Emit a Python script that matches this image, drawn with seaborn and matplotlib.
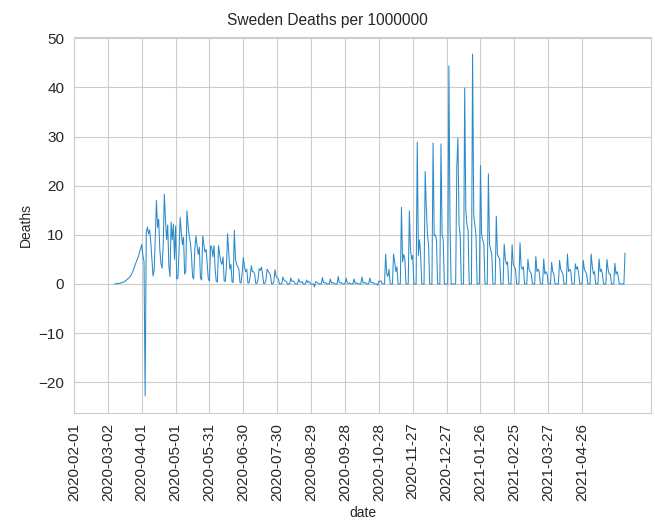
import matplotlib
matplotlib.use("Agg")
import matplotlib.pyplot as plt
import pandas as pd
import seaborn as sns

sns.set_style("whitegrid")
plt.rcParams["font.family"] = ["Liberation Sans", "DejaVu Sans"]

# Daily deaths per million, one row per week (Sunday..Saturday), starting 2020-03-08
start_date = "2020-03-08"

spring_2020 = [
    0.0, 0.0, 0.1, 0.1, 0.1, 0.2, 0.2,
    0.3, 0.4, 0.5, 0.7, 0.9, 1.1, 1.3,
    1.6, 2.0, 2.5, 3.1, 3.8, 4.4, 5.0,
    5.6, 6.4, 7.2, 8.0, 5.8, 4.5, -22.8,
    10.5, 11.6, 10.2, 11.0, 8.5, 5.0, 1.6,
    2.8, 9.5, 17.0, 11.5, 13.2, 7.0, 4.2,
    3.2, 8.0, 18.3, 13.2, 9.0, 12.0, 3.7,
    1.5, 12.6, 9.0, 12.2, 5.0, 11.8, 1.0,
    1.2, 6.5, 13.6, 10.5, 8.0, 9.5, 2.0,
    2.5, 14.9, 12.0, 9.8, 8.5, 6.0, 1.5,
    1.0, 7.1, 9.8, 7.8, 6.0, 7.5, 1.2,
    0.8, 9.8, 8.0, 6.5, 7.0, 4.0, 0.9,
    0.6, 7.8, 7.5, 5.5, 7.8, 3.0, 0.5,
    0.4, 7.8, 6.0, 4.5, 4.0, 5.5, 0.6,
    0.5, 3.5, 10.2, 6.5, 3.0, 4.0, 0.4,
    0.3, 10.9, 5.0, 4.0, 3.5, 3.0, 0.3,
    0.2, 2.5, 5.4, 3.5, 2.5, 3.0, 0.2,
    0.2, 1.5, 3.7, 2.5, 2.5, 2.0, 0.1,
    0.1, 1.0, 3.1, 2.8, 3.4, 2.0, 0.1,
    0.1, 0.8, 3.0, 2.6, 2.2, 1.8, 0.0,
    0.0, 0.5, 2.9, 1.5, 1.2, 1.0, 0.0,
]

summer_autumn_2020 = [
    0.0, 0.0, 1.4, 0.8, 0.6, 0.5, 0.0,
    0.0, 0.0, 1.2, 0.5, 0.6, 0.4, 0.0,
    0.0, 0.0, 1.0, 0.4, 0.3, 0.5, 0.0,
    0.0, 0.0, 0.8, 0.3, 0.5, 0.2, 0.0,
    0.0, 0.0, -0.6, 0.5, 0.3, 0.2, 0.0,
    0.0, 0.0, 1.3, 0.3, 0.2, 0.2, 0.0,
    0.0, 0.0, 1.0, 0.2, 0.3, 0.1, 0.0,
    0.0, 0.0, 1.5, 0.3, 0.2, 0.2, 0.0,
    0.0, 0.0, 1.2, 0.2, 0.1, 0.2, 0.0,
    0.0, 0.0, 1.0, 0.1, 0.2, 0.1, 0.0,
    0.0, 0.0, 1.4, 0.2, 0.2, 0.3, 0.0,
    0.0, 0.0, 1.2, 0.3, 0.3, 0.2, 0.0,
    0.0, 0.0, -0.3, 0.6, 0.5, 0.6, 0.0,
]

winter_2020_21 = [
    0.0, 0.0, 6.1, 2.0, 1.5, 3.0, 0.0,
    0.0, 0.0, 6.1, 4.5, 2.5, 3.5, 0.0,
    0.0, 0.0, 15.6, 4.5, 6.0, 5.0, 0.0,
    0.0, 0.0, 14.9, 7.0, 5.0, 5.8, 0.0,
    0.0, 0.0, 28.9, 5.8, 9.0, 6.0, 0.0,
    0.0, 0.0, 22.9, 15.9, 10.0, 8.0, 0.0,
    0.0, 0.0, 28.7, 9.8, 10.0, 9.0, 0.0,
    0.0, 0.0, 28.5, 10.0, 9.0, 0.0, 0.0,
    0.0, 0.0, 44.4, 12.0, 0.0, 0.0, 0.0,
    0.0, 0.0, 23.8, 29.7, 12.0, 10.0, 0.0,
    0.0, 0.0, 39.9, 15.0, 12.0, 11.0, 0.0,
    0.0, 0.0, 46.8, 14.0, 12.0, 10.0, 0.0,
    0.0, 0.0, 24.1, 10.0, 9.0, 8.0, 0.0,
    0.0, 0.0, 22.4, 8.0, 7.0, 6.0, 0.0,
    0.0, 0.0, 13.8, 6.0, 5.5, 5.0, 0.0,
    0.0, 0.0, 8.1, 5.0, 4.0, 4.5, 0.0,
]

spring_2021 = [
    0.0, 0.0, 8.0, 4.0, 3.5, 3.0, 0.0,
    0.0, 0.0, 8.4, 3.5, 3.0, 3.5, 0.0,
    0.0, 0.0, 5.0, 3.0, 2.5, 2.0, 0.0,
    0.0, 0.0, 5.6, 2.5, 3.0, 2.5, 0.0,
    0.0, 0.0, 5.1, 2.0, 2.5, 2.0, 0.0,
    0.0, 0.0, 4.4, 2.5, 2.0, 0.0, 0.0,
    0.0, 0.0, 4.8, 3.0, 2.5, 2.0, 0.0,
    0.0, 0.0, 6.1, 2.5, 3.0, 2.5, 0.0,
    0.0, 0.0, 4.1, 3.0, 3.5, 2.0, 0.0,
    0.0, 0.0, 4.8, 3.0, 2.5, 2.0, 0.0,
    0.0, 0.0, 6.1, 3.5, 2.0, 2.5, 0.0,
    0.0, 0.0, 5.1, 2.5, 3.0, 2.0, 0.0,
    0.0, 0.0, 5.0, 3.0, 2.0, 2.0, 0.0,
    0.0, 0.0, 4.2, 2.0, 2.5, 1.5, 0.0,
    0.0, 0.0, 0.0, 0.0, 6.3,
]

tick_labels = [
    "2020-02-01", "2020-03-02", "2020-04-01", "2020-05-01", "2020-05-31",
    "2020-06-30", "2020-07-30", "2020-08-29", "2020-09-28", "2020-10-28",
    "2020-11-27", "2020-12-27", "2021-01-26", "2021-02-25", "2021-03-27",
    "2021-04-26",
]

deaths = spring_2020 + summer_autumn_2020 + winter_2020_21 + spring_2021
df = pd.DataFrame({
    "date": pd.date_range(start_date, periods=len(deaths), freq="D"),
    "Deaths": deaths,
})

fig, ax = plt.subplots(figsize=(6.55, 5.31), dpi=100)
fig.subplots_adjust(left=74 / 655, right=651 / 655, top=1 - 37 / 531, bottom=1 - 413 / 531)

sns.lineplot(data=df, x="date", y="Deaths", ax=ax, color="#2b8bc9", linewidth=0.75)

ticks = pd.to_datetime(tick_labels)
ax.set_xticks(ticks)
ax.set_xticklabels(tick_labels, rotation=90, fontsize=11)
ax.tick_params(axis="y", labelsize=11)
ax.set_xlim(pd.Timestamp("2020-02-01"), pd.Timestamp("2021-06-26"))
ax.set_yticks(range(-20, 51, 10))
ax.set_xlabel("date", fontsize=10)
ax.set_ylabel("Deaths", fontsize=10)
fig.suptitle("Sweden Deaths per 1000000", x=0.5, y=1 - 20 / 531, va="center", fontsize=11.2)

fig.savefig("out.png", dpi=100)
